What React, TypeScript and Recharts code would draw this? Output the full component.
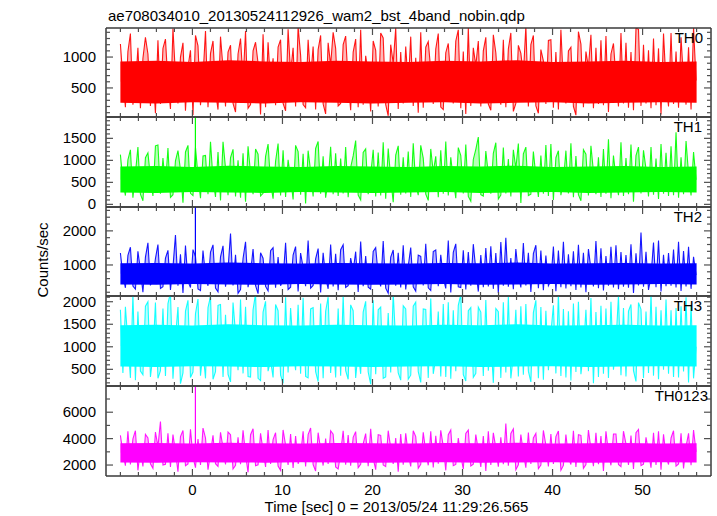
import React from 'react';
import { ComposedChart, Line, Area, XAxis, YAxis } from 'recharts';

const FONT = '"Liberation Sans", Arial, Helvetica, sans-serif';
const FRAME = '#3a3a3a';
const TICK = '#505050';

const TITLE = 'ae708034010_20130524112926_wam2_bst_4band_nobin.qdp';
const X_TITLE = 'Time [sec] 0 = 2013/05/24 11:29:26.565';
const Y_TITLE = 'Counts/sec';

// sample times: start and step of the light curve bins
const T_START = -8;
const T_STEP = 0.278;
const X_DOMAIN: [number, number] = [-9.6, 57.6];
const xMajorTicks = [0, 10, 20, 30, 40, 50];
const xAllTicks = [-8, -6, -4, -2, 0, 2, 4, 6, 8, 10, 12, 14, 16, 18, 20, 22, 24, 26, 28, 30, 32, 34, 36, 38, 40, 42, 44, 46, 48, 50, 52, 54, 56];

const coreTimes = [-8, -4, 0, 4, 8, 12, 16, 20, 24, 28, 32, 36, 40, 44, 48, 52, 56];

// ---------- TH0 ----------
const th0Values = [
  1210, 640, 190, 1090, 1380, 230, 520, 1150, 170, 980, 1320, 1050, 210, 760, 90, 1270,
  240, 1140, 1290, 580, 160, 1460, 700, 250, 1000, 1230, 130, 840, 1110, 60, 1350, 1180,
  220, 680, 1420, 190, 1060, 1260, 450, 150, 1330, 820, 200, 1080, 1190, 250, 110, 1050,
  1300, 610, 1420, 170, 230, 1100, 1240, 900, 70, 1370, 190, 1240, 560, 980, 220, 1160,
  1280, 250, 130, 1450, 740, 1150, 200, 1490, 1030, 230, 180, 1280, 650, 1170, 150, 1120,
  1350, 240, 80, 1230, 870, 1400, 1140, 210, 250, 1200, 1340, 600, 140, 1080, 1290, 190,
  1440, 230, 1020, 720, 120, 1260, 1110, 200, 1390, 1310, 230, 50, 1200, 900, 1470, 160,
  1080, 250, 1170, 540, 1330, 210, 990, 100, 1400, 180, 1160, 1250, 790, 240, 1130, 1380,
  190, 150, 1070, 1220, 630, 250, 1260, 1440, 170, 1090, 80, 1470, 210, 1150, 860, 1260,
  200, 1100, 1320, 240, 140, 1360, 1070, 480, 230, 1280, 190, 1130, 1390, 120, 250, 1190,
  1060, 700, 1500, 200, 1200, 1350, 210, 90, 1120, 940, 240, 1270, 1280, 180, 1080, 150,
  1440, 560, 250, 1100, 1160, 200, 60, 1410, 1210, 190, 1090, 830, 1360, 170, 1150, 240,
  1270, 220, 1340, 110, 1050, 1220, 660, 200, 1390, 250, 1230, 180, 1080, 140, 1470, 1450,
  210, 1200, 250, 1110, 170, 1300, 220, 1140, 70, 1380, 580, 200, 1390, 240, 1090, 180,
  1320, 610, 230, 1160, 150, 1480, 620,
];
const th0Base = 600;
const th0CoreLo = [260, 250, 270, 260, 250, 270, 260, 250, 260, 270, 250, 260, 270, 250, 260, 270, 260];
const th0CoreHi = [930, 940, 920, 950, 930, 920, 940, 930, 920, 940, 930, 950, 920, 930, 940, 920, 930];
const th0Domain: [number, number] = [30, 1470];
const th0Majors = [500, 1000];
const th0Ticks = [100, 200, 300, 400, 500, 600, 700, 800, 900, 1000, 1100, 1200, 1300, 1400];

// ---------- TH1 ----------
const th1Values = [
  1130, 520, 200, 1010, 1240, 150, 700, 1300, 230, 80, 1060, 1170, 610, 190, 1330, 1350,
  240, 1050, 430, 1280, 160, 220, 990, 1220, 780, 40, 1190, 1340, 250, 200, 1290, 650,
  140, 1100, 1110, 230, 1420, 560, 170, 1190, 90, 1420, 820, 210, 1060, 1250, 180, 1000,
  150, 1160, 60, 1320, 700, 230, 1260, 1140, 190, 250, 1090, 1370, 480, 130, 980, 1380,
  200, 1230, 170, 1010, 600, 110, 1340, 1200, 220, 1150, 20, 1220, 750, 180, 1270, 1430,
  240, 1090, 150, 530, 1310, 230, 1160, 190, 1040, 250, 1300, 160, 840, 1100, 1450, 210,
  100, 1180, 1260, 230, 660, 1240, 180, 1180, 200, 1410, 130, 1270, 590, 50, 1120, 1330,
  220, 1070, 250, 1200, 170, 1390, 460, 210, 1340, 1050, 230, 90, 1260, 730, 1090, 160,
  1230, 240, 1430, 200, 1070, 560, 140, 1290, 1110, 250, 1360, 180, 70, 1020, 1250, 1530,
  220, 190, 1210, 680, 240, 1160, 1400, 120, 210, 1290, 250, 1030, 180, 1240, 820, 1380,
  30, 1150, 1300, 200, 230, 1200, 640, 170, 1110, 240, 1350, 190, 1370, 100, 1060, 1220,
  210, 520, 1220, 250, 1390, 160, 1100, 220, 80, 1240, 1140, 200, 1330, 740, 230, 1070,
  170, 1260, 240, 1480, 140, 1110, 600, 210, 1410, 190, 1050, 230, 1360, 60, 1110, 1300,
  250, 1230, 800, 180, 1300, 220, 1040, 120, 1370, 240, 1170, 190, 1320, 210, 1640, 150,
  1070, 230, 1440, 690, 200, 1190, 560,
];
const th1Base = 560;
const th1CoreLo = [270, 260, 280, 270, 260, 280, 270, 260, 270, 280, 260, 270, 280, 260, 270, 280, 270];
const th1CoreHi = [860, 870, 850, 880, 860, 850, 870, 860, 850, 870, 860, 880, 850, 860, 870, 850, 860];
const th1Domain: [number, number] = [-60, 1985];
const th1Majors = [0, 500, 1000, 1500];
const th1Ticks = [0, 100, 200, 300, 400, 500, 600, 700, 800, 900, 1000, 1100, 1200, 1300, 1400, 1500, 1600, 1700, 1800, 1900];
const th1Spike = [600, 1990];

// ---------- TH2 ----------
const th2Values = [
  1350, 700, 330, 1280, 1520, 380, 290, 1400, 850, 200, 1230, 1650, 400, 610, 1190, 1600,
  310, 360, 1200, 1430, 270, 940, 1880, 390, 1310, 180, 1570, 520, 340, 1450, 1250, 300,
  250, 1420, 680, 390, 1380, 1590, 320, 210, 1240, 1560, 360, 880, 1920, 400, 1300, 170,
  280, 1190, 1680, 350, 760, 1470, 390, 160, 1360, 1200, 370, 240, 1420, 1510, 330, 1230,
  390, 580, 1650, 280, 350, 1290, 1540, 220, 1350, 920, 380, 1720, 320, 400, 1180, 1480,
  190, 1360, 640, 300, 1600, 370, 1330, 260, 1450, 1590, 340, 390, 1200, 830, 1390, 210,
  1690, 380, 1260, 350, 290, 1400, 1510, 700, 370, 1700, 320, 170, 1230, 1440, 390, 1360,
  340, 1580, 280, 960, 1510, 360, 230, 1290, 1250, 400, 1620, 330, 250, 1390, 1440, 380,
  1300, 620, 310, 1720, 190, 1370, 1620, 360, 340, 1430, 280, 1380, 390, 1610, 860, 220,
  1290, 350, 1500, 370, 1550, 300, 1350, 180, 1670, 390, 1800, 360, 1200, 290, 1470, 740,
  340, 1640, 400, 1360, 210, 1330, 1580, 320, 1420, 260, 1280, 390, 540, 1540, 230, 1420,
  350, 1680, 310, 1310, 380, 1400, 270, 1590, 340, 1360, 200, 1470, 870, 370, 1700, 320,
  1490, 250, 1260, 390, 1530, 340, 1580, 290, 1380, 360, 1290, 330, 1610, 180, 1340, 400,
  1950, 360, 1390, 270, 660, 1660, 350, 1720, 220, 1300, 380, 1350, 390, 1450, 340, 1680,
  240, 1410, 370, 1530, 300, 1240, 700,
];
const th2Base = 740;
const th2CoreLo = [430, 420, 440, 430, 420, 440, 430, 420, 430, 440, 420, 430, 440, 420, 430, 440, 430];
const th2CoreHi = [1050, 1060, 1040, 1070, 1050, 1040, 1060, 1050, 1040, 1060, 1050, 1070, 1040, 1050, 1060, 1040, 1050];
const th2Domain: [number, number] = [90, 2700];
const th2Majors = [1000, 2000];
const th2Ticks = [200, 400, 600, 800, 1000, 1200, 1400, 1600, 1800, 2000, 2200, 2400, 2600];
const th2Spike = [900, 2710];

// ---------- TH3 ----------
const th3Values = [
  1820, 420, 1890, 1100, 310, 2150, 260, 1780, 460, 380, 1900, 2000, 330, 800, 1980, 300,
  470, 1850, 350, 1960, 2200, 290, 1200, 1880, 180, 420, 1790, 2030, 320, 440, 1740, 2060,
  360, 900, 300, 1870, 2120, 280, 450, 1920, 1940, 330, 1710, 390, 220, 1980, 1300, 480,
  2050, 410, 1890, 340, 330, 1820, 2180, 300, 250, 1770, 2010, 460, 700, 320, 1940, 1800,
  370, 190, 2100, 430, 1860, 1000, 480, 1930, 400, 2090, 340, 310, 1840, 1870, 450, 230,
  1960, 300, 1790, 2100, 420, 1250, 320, 1850, 360, 2140, 470, 280, 1930, 1800, 310, 900,
  400, 1770, 2010, 440, 170, 2030, 390, 1820, 1880, 300, 330, 1750, 430, 2190, 1100, 420,
  260, 1910, 1840, 280, 370, 1900, 1990, 450, 210, 1840, 1830, 310, 2070, 400, 750, 1780,
  340, 1950, 330, 1990, 290, 1810, 460, 1920, 2160, 380, 240, 1800, 1870, 320, 410, 1880,
  1770, 350, 2040, 470, 1200, 200, 1850, 1780, 310, 1990, 430, 2110, 300, 820, 1820, 340,
  1900, 380, 1950, 460, 220, 1760, 2030, 300, 1880, 270, 1800, 480, 1300, 1920, 410, 2180,
  350, 1840, 320, 1790, 250, 1960, 440, 2000, 390, 900, 1820, 460, 2080, 190, 1770, 330,
  1910, 400, 1850, 310, 2000, 490, 1100, 2130, 370, 1860, 340, 1790, 1940, 470, 230, 1980,
  1830, 310, 1780, 420, 2170, 360, 1890, 280, 1810, 490, 2050, 400, 1810, 330, 1860, 320,
  1900, 450, 2100, 210, 1930, 300, 1000,
];
const th3Base = 1020;
const th3CoreLo = [560, 550, 570, 560, 550, 570, 560, 550, 560, 570, 550, 560, 570, 550, 560, 570, 560];
const th3CoreHi = [1480, 1490, 1470, 1500, 1480, 1470, 1490, 1480, 1470, 1490, 1480, 1500, 1470, 1480, 1490, 1470, 1480];
const th3Domain: [number, number] = [130, 2127];
const th3Majors = [500, 1000, 1500, 2000];
const th3Ticks = [200, 300, 400, 500, 600, 700, 800, 900, 1000, 1100, 1200, 1300, 1400, 1500, 1600, 1700, 1800, 1900, 2000, 2100];

// ---------- TH0123 ----------
const th0123Values = [
  4250, 2900, 1950, 4550, 2050, 3980, 4600, 1600, 3200, 1900, 4320, 4050, 2100, 1750, 4500, 3400,
  5300, 2000, 2050, 4400, 1850, 4300, 3000, 1500, 4150, 4620, 1950, 2080, 4700, 2600, 1800, 3960,
  2000, 4800, 4050, 1650, 2900, 4250, 2100, 1900, 4480, 3300, 2050, 4500, 4300, 1700, 1980, 4100,
  2060, 4630, 2800, 1450, 4300, 4750, 1950, 2020, 4400, 3100, 1850, 4650, 2080, 3920, 4450, 1920,
  1600, 4660, 3500, 2000, 4350, 1780, 4190, 2100, 2700, 4550, 1900, 4300, 4800, 2040, 1550, 4450,
  3200, 1960, 4010, 2090, 4600, 4340, 1850, 1700, 2900, 4600, 2030, 4270, 1950, 4100, 4530, 1800,
  2060, 3600, 4380, 1920, 4750, 2500, 1650, 4300, 4250, 2000, 1880, 4600, 3300, 2080, 4050, 1500,
  4350, 2020, 4400, 2800, 1900, 4590, 4150, 1750, 2050, 4480, 3000, 1980, 4550, 1820, 4220, 2100,
  4630, 3400, 1600, 4300, 4660, 1950, 2040, 4050, 2700, 1700, 4400, 4650, 1930, 2070, 4300, 3100,
  1850, 4200, 1550, 4560, 2000, 4440, 3300, 1880, 4100, 2060, 5150, 1950, 4390, 4730, 1650, 2020,
  4300, 2900, 1800, 4470, 2090, 4050, 4400, 1720, 2000, 4620, 3500, 1900, 4350, 2080, 4150, 4580,
  1600, 1970, 4300, 2600, 2040, 4600, 1850, 4300, 4250, 1750, 2030, 4650, 3200, 1920, 4450, 2070,
  4190, 1550, 4550, 2900, 1980, 4350, 4350, 2050, 1880, 4560, 3600, 2010, 4230, 1700, 4450, 4700,
  1950, 2060, 4100, 3000, 1800, 4450, 2000, 4550, 1650, 4320, 2700, 2040, 4050, 4600, 1920, 2080,
  4410, 1750, 3400, 4400, 1990, 4650, 3000,
];
const th0123Base = 2930;
const th0123CoreLo = [2200, 2180, 2220, 2200, 2180, 2220, 2200, 2180, 2200, 2220, 2180, 2200, 2220, 2180, 2200, 2220, 2200];
const th0123CoreHi = [3650, 3670, 3630, 3680, 3650, 3630, 3670, 3650, 3630, 3670, 3650, 3680, 3630, 3650, 3670, 3630, 3650];
const th0123Domain: [number, number] = [1170, 7985];
const th0123Majors = [2000, 4000, 6000];
const th0123Ticks = [2000, 3000, 4000, 5000, 6000, 7000];
const th0123Spike = [3000, 7950];

const spikeTimes = [0.33, 0.33];

type Panel = {
  name: string;
  color: string;
  values: number[];
  base: number;
  coreLo: number[];
  coreHi: number[];
  domain: [number, number];
  ticks: number[];
  majors: number[];
  spike?: number[];
  top: number;
  bottom: number;
  nameRight: number;
};

const panels: Panel[] = [
  { name: 'TH0', color: '#ff0000', values: th0Values, base: th0Base, coreLo: th0CoreLo, coreHi: th0CoreHi, domain: th0Domain, ticks: th0Ticks, majors: th0Majors, top: 28, bottom: 117, nameRight: 703 },
  { name: 'TH1', color: '#00ff00', values: th1Values, base: th1Base, coreLo: th1CoreLo, coreHi: th1CoreHi, domain: th1Domain, ticks: th1Ticks, majors: th1Majors, spike: th1Spike, top: 117, bottom: 207, nameRight: 702 },
  { name: 'TH2', color: '#0000ff', values: th2Values, base: th2Base, coreLo: th2CoreLo, coreHi: th2CoreHi, domain: th2Domain, ticks: th2Ticks, majors: th2Majors, spike: th2Spike, top: 207, bottom: 296, nameRight: 702 },
  { name: 'TH3', color: '#00ffff', values: th3Values, base: th3Base, coreLo: th3CoreLo, coreHi: th3CoreHi, domain: th3Domain, ticks: th3Ticks, majors: th3Majors, top: 296, bottom: 386, nameRight: 702 },
  { name: 'TH0123', color: '#ff00ff', values: th0123Values, base: th0123Base, coreLo: th0123CoreLo, coreHi: th0123CoreHi, domain: th0123Domain, ticks: th0123Ticks, majors: th0123Majors, spike: th0123Spike, top: 386, bottom: 476, nameRight: 708 },
];

const W = 717;
const H = 516;
const MAJOR_LEN = 7;
const MINOR_LEN = 4;

function LeftTick(props: any) {
  const { x, y, payload, majors } = props;
  const v = payload.value;
  const major = majors.includes(v);
  return (
    <g>
      <line x1={x} y1={y} x2={x + (major ? MAJOR_LEN : MINOR_LEN)} y2={y} stroke={TICK} strokeWidth={1.2} />
      {major && (
        <text x={x - 10} y={y + 5} textAnchor="end" fontSize={15} fontFamily={FONT} fill="#000">
          {v}
        </text>
      )}
    </g>
  );
}

function RightTick(props: any) {
  const { x, y, payload, majors } = props;
  const major = majors.includes(payload.value);
  return <line x1={x} y1={y} x2={x - (major ? MAJOR_LEN : MINOR_LEN)} y2={y} stroke={TICK} strokeWidth={1.2} />;
}

function TopTick(props: any) {
  const { x, y, payload } = props;
  const major = xMajorTicks.includes(payload.value);
  return <line x1={x} y1={y} x2={x} y2={y + (major ? MAJOR_LEN : MINOR_LEN)} stroke={TICK} strokeWidth={1.2} />;
}

function BottomTick(props: any) {
  const { x, y, payload, show } = props;
  const v = payload.value;
  const major = xMajorTicks.includes(v);
  return (
    <g>
      <line x1={x} y1={y} x2={x} y2={y - (major ? MAJOR_LEN : MINOR_LEN)} stroke={TICK} strokeWidth={1.2} />
      {show && major && (
        <text x={x} y={y + 19} textAnchor="middle" fontSize={15} fontFamily={FONT} fill="#000">
          {v}
        </text>
      )}
    </g>
  );
}

function PanelChart({ p, last }: { p: Panel; last: boolean }) {
  const data = p.values.map((v, i) => ({ t: T_START + i * T_STEP, v }));
  const core = coreTimes.map((t, i) => ({ t, r: [p.coreLo[i], p.coreHi[i]] }));
  const spike = p.spike ? spikeTimes.map((t, i) => ({ t, v: p.spike![i] })) : null;
  const axisLine = { stroke: FRAME, strokeWidth: 1.5 };
  return (
    <div style={{ position: 'absolute', left: 0, top: 0, width: W, height: H }}>
      <ComposedChart
        width={W}
        height={H}
        margin={{ top: p.top - 1, right: 5, bottom: H - p.bottom - 1, left: 46 }}
      >
        <XAxis
          xAxisId="b"
          dataKey="t"
          type="number"
          orientation="bottom"
          domain={X_DOMAIN}
          allowDataOverflow
          height={1}
          ticks={xAllTicks}
          interval={0}
          tickSize={0}
          tickMargin={0}
          tickLine={false}
          axisLine={axisLine}
          tick={(tp: any) => <BottomTick {...tp} show={last} />}
        />
        <XAxis
          xAxisId="t"
          dataKey="t"
          type="number"
          orientation="top"
          domain={X_DOMAIN}
          allowDataOverflow
          height={1}
          ticks={xAllTicks}
          interval={0}
          tickSize={0}
          tickMargin={0}
          tickLine={false}
          axisLine={axisLine}
          tick={(tp: any) => <TopTick {...tp} />}
        />
        <YAxis
          yAxisId="l"
          type="number"
          orientation="left"
          domain={p.domain}
          allowDataOverflow
          width={60}
          ticks={p.ticks}
          interval={0}
          tickSize={0}
          tickMargin={0}
          tickLine={false}
          axisLine={axisLine}
          tick={(tp: any) => <LeftTick {...tp} majors={p.majors} />}
        />
        <YAxis
          yAxisId="r"
          type="number"
          orientation="right"
          domain={p.domain}
          allowDataOverflow
          width={1}
          ticks={p.ticks}
          interval={0}
          tickSize={0}
          tickMargin={0}
          tickLine={false}
          axisLine={axisLine}
          tick={(tp: any) => <RightTick {...tp} majors={p.majors} />}
        />
        <Area
          xAxisId="b"
          yAxisId="l"
          data={data}
          dataKey="v"
          type="linear"
          baseValue={p.base}
          stroke="none"
          fill={p.color}
          fillOpacity={0.28}
          dot={false}
          activeDot={false}
          isAnimationActive={false}
        />
        <Area
          xAxisId="b"
          yAxisId="l"
          data={core}
          dataKey="r"
          type="linear"
          stroke="none"
          fill={p.color}
          fillOpacity={1}
          dot={false}
          activeDot={false}
          isAnimationActive={false}
        />
        <Line
          xAxisId="b"
          yAxisId="l"
          data={data}
          dataKey="v"
          type="linear"
          stroke={p.color}
          strokeWidth={1.1}
          strokeOpacity={0.9}
          dot={false}
          activeDot={false}
          isAnimationActive={false}
        />
        {spike && (
          <Line
            xAxisId="b"
            yAxisId="l"
            data={spike}
            dataKey="v"
            type="linear"
            stroke={p.color}
            strokeWidth={1.2}
            dot={false}
            activeDot={false}
            isAnimationActive={false}
          />
        )}
      </ComposedChart>
    </div>
  );
}

export default function App() {
  return (
    <div style={{ position: 'absolute', left: 0, top: 0, width: W, height: H, background: '#fff', overflow: 'hidden' }}>
      {panels.map((p, i) => (
        <PanelChart key={p.name} p={p} last={i === panels.length - 1} />
      ))}
      <svg width={W} height={H} style={{ position: 'absolute', left: 0, top: 0, pointerEvents: 'none' }}>
        <text x={108} y={21} fontSize={15} fontFamily={FONT} fill="#000">
          {TITLE}
        </text>
        <text x={396.5} y={512} fontSize={15} fontFamily={FONT} fill="#000" textAnchor="middle">
          {X_TITLE}
        </text>
        <text x={47.5} y={260} fontSize={15} fontFamily={FONT} fill="#000" textAnchor="middle" transform="rotate(-90 47.5 260)">
          {Y_TITLE}
        </text>
        {panels.map((p) => (
          <text key={p.name} x={p.nameRight} y={p.top + 15} fontSize={15} fontFamily={FONT} fill="#000" textAnchor="end">
            {p.name}
          </text>
        ))}
      </svg>
    </div>
  );
}
